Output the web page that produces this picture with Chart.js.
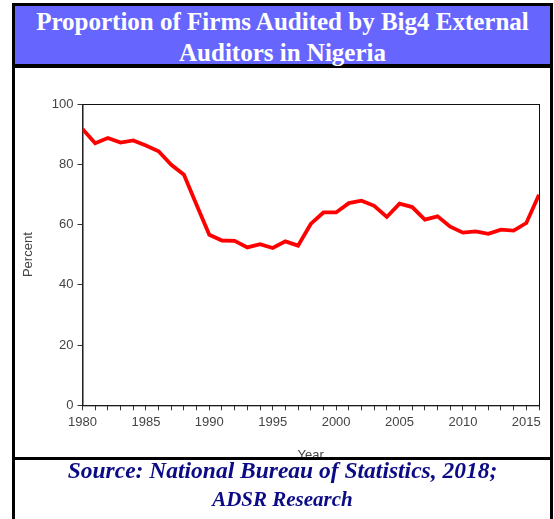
<!DOCTYPE html>
<html>
<head>
<meta charset="utf-8">
<script src="https://cdn.jsdelivr.net/npm/chart.js@4.4.1/dist/chart.umd.min.js"></script>
<style>
    html, body { margin: 0; padding: 0; background: #fff; }
    body { width: 554px; height: 519px; position: relative; overflow: hidden; }
    #frame {
        position: absolute; left: 12px; top: 3px;
        width: 535px; height: 530px;
        border: 3px solid #000; border-bottom: none;
    }
    #titleBox {
        position: absolute; left: 0; top: 0; width: 535px; height: 58px;
        background: #6666ff; border-bottom: 4px solid #000;
        color: #fff; font-family: "Liberation Serif", "Times New Roman", serif;
        font-weight: bold; font-size: 25px; line-height: 31px; text-align: center;
    }
    #chart { position: absolute; left: 0; top: 62px; }
    #rule {
        position: absolute; left: 0; top: 450.5px; width: 535px; height: 3.5px;
        background: #000; z-index: 2;
    }
    .source {
        position: absolute; left: 0; width: 535px; text-align: center;
        font-family: "Liberation Serif", "Times New Roman", serif;
        font-weight: bold; font-style: italic; color: #0b0b85; line-height: 28px;
        z-index: 3;
    }
</style>
</head>
<body>
<div id="frame">
    <div id="titleBox">Proportion of Firms Audited by Big4 External<br>Auditors in Nigeria</div>
    <canvas id="chart" width="535" height="400"></canvas>
    <div id="rule"></div>
    <div class="source" style="top:450px; font-size:23.5px;">Source: National Bureau of Statistics, 2018;</div>
    <div class="source" style="top:479px; font-size:21px;">ADSR Research</div>
</div>
<script>
const years = [1980, 1981, 1982, 1983, 1984, 1985, 1986, 1987, 1988, 1989,
               1990, 1991, 1992, 1993, 1994, 1995, 1996, 1997, 1998, 1999,
               2000, 2001, 2002, 2003, 2004, 2005, 2006, 2007, 2008, 2009,
               2010, 2011, 2012, 2013, 2014, 2015, 2016];
const percent = [91.7, 87.0, 88.7, 87.2, 87.9, 86.2, 84.3, 79.8, 76.5, 66.5,
                 56.6, 54.7, 54.6, 52.4, 53.5, 52.2, 54.4, 53.0, 60.2, 64.0,
                 64.0, 67.1, 67.9, 66.2, 62.5, 66.9, 65.8, 61.6, 62.7, 59.3,
                 57.3, 57.7, 56.9, 58.3, 58.0, 60.5, 69.9];
const yearLabels = [1980, 1985, 1990, 1995, 2000, 2005, 2010, 2015];

const axisColor = "#333";
const labelColor = "#444";
const tickFont = { family: "'Liberation Sans', Arial, sans-serif", size: 13 };

// box round the plot area (top and right edges too)
const plotBox = {
    id: "plotBox",
    beforeDatasetsDraw(chart) {
        const { ctx, chartArea: a } = chart;
        ctx.save();
        ctx.strokeStyle = "#111";
        ctx.lineWidth = 1;
        ctx.strokeRect(a.left + 0.5, a.top + 0.5, a.right - a.left, a.bottom - a.top);
        ctx.restore();
    }
};

new Chart(document.getElementById("chart").getContext("2d"), {
    type: "line",
    data: {
        datasets: [{
            data: years.map((y, i) => ({ x: y, y: percent[i] })),
            borderColor: "#ff0000",
            borderWidth: 3.8,
            pointRadius: 0,
            tension: 0,
            fill: false
        }]
    },
    options: {
        responsive: false,
        animation: false,
        layout: { padding: { top: 36, right: 11, left: 0, bottom: 0 } },
        plugins: { legend: { display: false }, tooltip: { enabled: false } },
        scales: {
            x: {
                type: "linear",
                min: 1980,
                max: 2016,
                afterFit: (s) => { s.height = 62.7; },
                border: { color: axisColor, width: 1 },
                grid: { drawOnChartArea: false, tickLength: 5, color: axisColor },
                ticks: {
                    stepSize: 1,
                    autoSkip: false,
                    maxRotation: 0,
                    padding: 4,
                    color: labelColor,
                    font: tickFont,
                    callback: (v) => yearLabels.includes(v) ? String(v) : ""
                },
                title: {
                    display: true, text: "Year", color: labelColor,
                    font: { family: "'Liberation Sans', Arial, sans-serif", size: 13 },
                    padding: { top: 0, bottom: 4.7 }
                }
            },
            y: {
                min: 0,
                max: 100,
                afterFit: (s) => { s.width = 67.5; },
                border: { color: axisColor, width: 1 },
                grid: { drawOnChartArea: false, tickLength: 5, color: axisColor },
                ticks: { stepSize: 20, padding: 4, color: labelColor, font: tickFont },
                title: {
                    display: true, text: "Percent", color: labelColor,
                    font: { family: "'Liberation Sans', Arial, sans-serif", size: 13 },
                    padding: { top: 5.5, bottom: 0 }
                }
            }
        }
    },
    plugins: [plotBox]
});
</script>
</body>
</html>
